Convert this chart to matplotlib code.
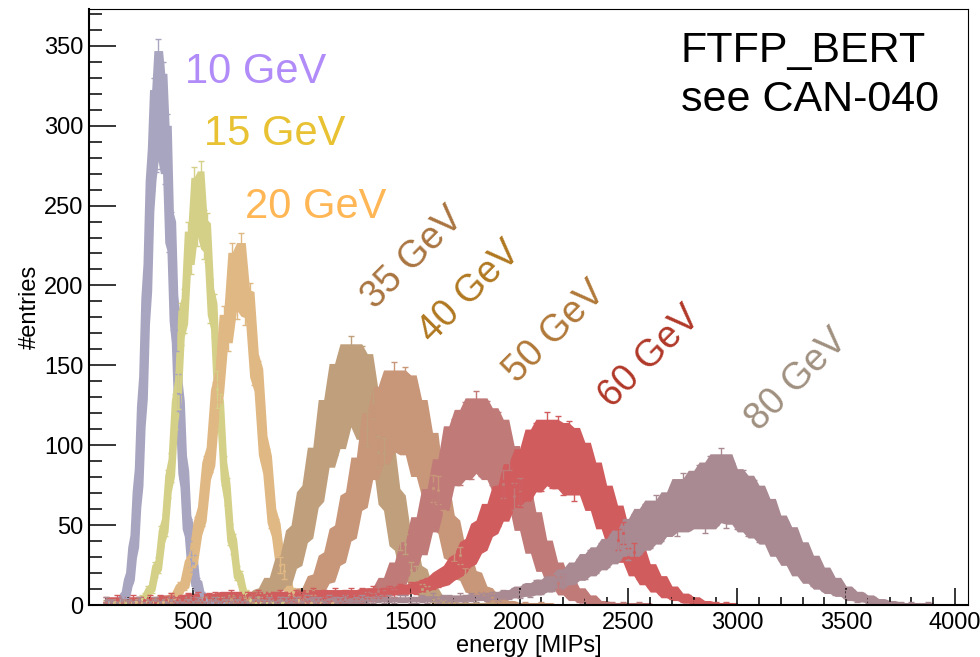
import numpy as np
import matplotlib
matplotlib.use("Agg")
import matplotlib.pyplot as plt
from matplotlib.ticker import MultipleLocator
from numpy.lib.stride_tricks import sliding_window_view

plt.rcParams['font.family'] = ['Liberation Sans', 'DejaVu Sans']

# histogram contents, one list per beam energy
# (first bin centre and bin spacing in MIPs, then counts)
e10_start, e10_step = 100, 10
e10_counts = [1, 2, 1, 2, 1, 2, 1, 3, 5, 7,
              14, 18, 33, 40, 66, 80, 118, 136, 184, 205,
              256, 276, 312, 288, 336, 290, 322, 280, 290, 236,
              231, 186, 172, 133, 121, 88, 79, 52, 47, 29,
              26, 14, 13, 7, 6, 3, 3, 1, 2, 1,
              1, 0, 1, 0, 1, 0, 0, 1, 0, 0, 0]

e15_start, e15_step = 100, 15
e15_counts = [1, 0, 1, 1, 0, 1, 1, 0, 1, 2,
              1, 4, 5, 9, 11, 22, 25, 43, 50, 76,
              86, 121, 134, 176, 184, 225, 222, 258, 240, 262,
              232, 230, 190, 181, 135, 121, 84, 71, 44, 38,
              20, 17, 8, 7, 3, 2, 1, 1, 0, 1,
              0, 1, 0, 0, 1, 0, 0, 0, 0, 0, 0]

e20_start, e20_step = 100, 20
e20_counts = [1, 1, 2, 1, 1, 2, 1, 2, 1, 2,
              1, 2, 1, 2, 3, 5, 6, 11, 13, 25,
              29, 48, 57, 84, 93, 128, 139, 174, 172, 212,
              193, 218, 189, 188, 150, 141, 100, 88, 56, 47,
              25, 21, 9, 8, 3, 3, 1, 1, 0, 1,
              0, 0, 1, 0, 0, 0]

e35_start, e35_step = 100, 25
e35_counts = [2, 1, 2, 2, 1, 2, 3, 1, 2, 2, 1, 3, 2, 2, 1, 3, 2, 2, 3, 2, 3, 2, 3, 4,
              3, 4, 3, 5, 5, 8, 9, 15, 14, 26, 28, 43, 46, 66, 70, 93, 92,
              122, 104, 144, 118, 156, 124, 150, 110, 128,
              96, 95, 68, 64, 41, 38, 22, 20, 10, 9, 4, 4, 2, 1,
              1, 0, 1, 0, 1, 0, 0, 1, 0, 0, 0, 0, 0, 0, 0, 0, 0]

e40_start, e40_step = 100, 25
e40_counts = [1, 2, 1, 2, 2, 1, 2, 1, 2, 3, 1, 2, 2, 3, 2, 1, 3, 2, 2, 3, 2, 3, 2, 3,
              2, 3, 3, 2, 3, 2, 3, 2,
              3, 2, 4, 3, 6, 9, 9, 16, 17, 28, 30, 44, 46, 64, 66, 87, 84,
              114, 94, 130, 102, 140, 110, 137, 100, 122, 86, 102,
              73, 72, 52, 49, 33, 31, 19, 18, 10, 9, 5, 5, 2, 2, 1, 1,
              0, 1, 0, 0, 1, 0, 0, 0, 0, 0, 0, 0, 0]

e50_start, e50_step = 100, 25
e50_counts = [1, 1, 2, 1, 2, 1, 2, 2, 1, 2, 1, 2, 3, 1, 2, 2, 3, 2, 1, 3,
              2, 2, 3, 2, 1, 3, 2, 3, 2, 2, 3, 2, 3, 2, 3, 2, 3, 2, 3, 2,
              3, 2, 3, 2, 3, 2, 4, 3, 6, 5, 9, 9, 15, 14, 24, 24, 36, 35, 51, 50,
              68, 64, 86, 80, 106, 84, 116, 88, 123, 90, 117, 84, 110, 76, 94,
              68, 71, 51, 54, 36, 37, 24, 24, 14, 15, 8, 9, 4, 5, 2,
              2, 1, 1, 1, 0, 1, 0, 0, 1, 0, 0, 0, 0, 0, 0]

e60_start, e60_step = 100, 25
e60_counts = [3, 2, 4, 3, 2, 4, 3, 3, 4, 2, 4, 3, 5, 3, 4, 5,
              4, 6, 4, 5, 6, 4, 5, 7, 5, 4, 6, 5, 7, 5, 6, 4, 7, 6, 5, 7,
              6, 5, 8, 6, 7, 5, 8, 6, 7, 8, 6, 8, 7, 9, 7, 8, 9, 8, 10, 9,
              11, 10, 12, 13, 14, 15, 18, 20, 22, 27, 29, 36, 38, 47, 49, 59, 57, 70, 66, 83,
              70, 92, 76, 104, 80, 110, 82, 108, 78, 105, 74, 96,
              77, 84, 64, 70, 52, 58, 41, 45, 30, 33, 21, 23, 15, 16, 10, 10, 6, 6,
              4, 4, 2, 2, 1, 1, 1, 0, 1, 0, 0]

e80_start, e80_step = 100, 25
e80_counts = [3, 2, 1, 3, 2, 2, 3, 1, 2, 3, 2, 2, 3, 2, 1, 3, 2, 3, 2,
              2, 3, 2, 3, 2, 3, 2, 2, 3, 3, 2, 3, 2, 3, 3, 2,
              3, 2, 4, 3, 3, 2, 4, 3, 3, 4, 2, 3, 4, 3, 3, 4, 3, 4, 3, 4,
              4, 3, 3, 4, 3, 5, 3, 4, 4, 3, 5, 4, 5, 4, 6, 5, 6, 5, 7, 6,
              8, 7, 10, 8, 12, 10, 14, 12, 17, 15, 20, 18, 24, 21, 29, 25, 33, 29, 38, 34,
              43, 34, 50, 38, 56, 42, 61, 47, 52, 66, 50, 74, 54, 70, 79, 52, 84, 58, 89, 56,
              80, 55, 76, 50, 70, 46, 62, 42, 52, 34, 45, 28, 36, 21, 28, 16, 21, 12, 15, 9,
              10, 7, 7, 4, 5, 3, 3, 2, 2, 1, 1, 1, 0, 1, 0, 0, 1, 0]

beam_labels = ["10 GeV", "15 GeV", "20 GeV", "35 GeV", "40 GeV", "50 GeV", "60 GeV", "80 GeV"]

# styling: marker colours, label colours, label anchor (data coords), rotation
hist_colors = ['#a8a5c0', '#d4d088', '#e0b884', '#c0a07c', '#c89678', '#c07a78', '#d05c5e', '#aa8a92']
text_colors = ['#b18cf9', '#e8c233', '#ffb655', '#a97440', '#b07820', '#b07838', '#b03828', '#a09080']
text_pos = [(463, 327), (550, 288), (739, 242), (1512, 217), (1770, 196), (2160, 171), (2598, 155), (3275, 141)]
text_rot = [0, 0, 0, 45, 45, 45, 45, 45]
band_k = [2, 1, 1, 2, 2, 2, 2, 2]

hists = [(e10_start, e10_step, e10_counts), (e15_start, e15_step, e15_counts),
         (e20_start, e20_step, e20_counts), (e35_start, e35_step, e35_counts),
         (e40_start, e40_step, e40_counts), (e50_start, e50_step, e50_counts),
         (e60_start, e60_step, e60_counts), (e80_start, e80_step, e80_counts)]


def envelope(vals, k, fn):
    # running max / min over k neighbouring bins on each side
    padded = np.pad(vals, k, mode='edge')
    return fn(sliding_window_view(padded, 2 * k + 1), axis=1)


fig = plt.figure(figsize=(9.8, 6.57), dpi=100)
ax = fig.add_axes([0.0908, 0.0791, 0.897, 0.9072])

for (start, step, counts), col, k in zip(hists, hist_colors, band_k):
    y = np.array(counts, dtype=float)
    x = start + step * np.arange(len(y))
    err = np.sqrt(y)
    # dense band of overlapping points, error bars with caps sticking out of it
    ax.fill_between(x, envelope(y - 0.6 * err, k, np.min),
                    envelope(y + 0.6 * err, k, np.max), color=col, lw=0)
    ax.errorbar(x, y, yerr=err, fmt='.', ms=2.5, color=col, ecolor=col,
                elinewidth=1.0, capsize=2.3, capthick=1.0)

for txt, col, (tx, ty), rot in zip(beam_labels, text_colors, text_pos, text_rot):
    if rot == 0:
        ax.text(tx, ty, txt, color=col, fontsize=30, ha='left', va='baseline')
    else:
        ax.text(tx, ty, txt, color=col, fontsize=27, rotation=rot,
                rotation_mode='anchor', ha='center', va='center')

ax.text(2741, 339.8, "FTFP_BERT", fontsize=31, ha='left', va='baseline')
ax.text(2741, 309.0, "see CAN-040", fontsize=31, ha='left', va='baseline')

ax.set_xlim(22, 4060)
ax.set_ylim(0, 373)
ax.xaxis.set_major_locator(MultipleLocator(500))
ax.xaxis.set_minor_locator(MultipleLocator(100))
ax.yaxis.set_major_locator(MultipleLocator(50))
ax.yaxis.set_minor_locator(MultipleLocator(10))
ax.tick_params(which='both', direction='in', top=False, right=False, labelsize=17, width=1.1)
ax.tick_params(axis='y', which='major', length=19.5, pad=4)
ax.tick_params(axis='y', which='minor', length=9.5)
ax.tick_params(axis='x', which='major', length=12.5, pad=5)
ax.tick_params(axis='x', which='minor', length=6)
for side in ['left', 'bottom']:
    ax.spines[side].set_linewidth(1.5)
for side in ['top', 'right']:
    ax.spines[side].set_linewidth(0.8)

ax.set_xlabel("energy [MIPs]", fontsize=17, labelpad=1)
ax.set_ylabel("#entries", fontsize=17, labelpad=2)

fig.savefig("out.png", dpi=100)
